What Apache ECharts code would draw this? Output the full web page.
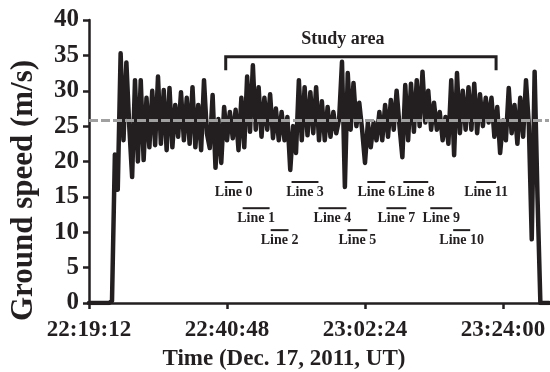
<!DOCTYPE html>
<html>
<head>
<meta charset="utf-8">
<script src="https://cdn.jsdelivr.net/npm/echarts@6/dist/echarts.min.js"></script>
</head>
<body style="margin:0">
<div id="main" style="width:550px;height:372px;"></div>
<script>
// time axis is in seconds of the day (UT)
var startTime = '22:19:12';
var endTime = '23:31:12';
var sampleStep = 27; // seconds between samples
var tickTimes = ['22:19:12', '22:40:48', '23:02:24', '23:24:00'];

// ground speed (m/s), one value per sample from startTime
var speed = [
  0, 0, 0, 0, 0, 0, 0, 0, 0.3, 21,
  16, 35.3, 23, 34, 25, 17.8, 31.5, 20, 31.5, 20.2,
  29, 22, 30, 22.3, 32, 22.5, 30.1, 21.6, 30.4, 22,
  28, 23.5, 29.8, 23, 29, 22.5, 30.5, 22, 28, 21.6,
  31.5, 24, 21.9, 29.4, 19.1, 26, 19.8, 27.7, 23, 27,
  23.3, 27.3, 21.6, 29, 22, 32, 24.2, 33.6, 24.5, 30.5,
  23.5, 29, 24.5, 29.5, 23.3, 27.5, 23, 27, 23, 26.3,
  18.8, 25, 21.2, 31.5, 23, 30.5, 23.7, 29.8, 24, 30.5,
  23, 28.5, 23, 27.7, 23.5, 27, 24, 26, 34.1, 16.4,
  32.5, 24.5, 31.1, 25, 28.3, 24.5, 19.8, 25.5, 22, 25.5,
  23, 27, 23, 28, 23.5, 28.7, 24.5, 30, 25, 20.6,
  30.8, 23, 31, 24.2, 31.5, 25, 32.7, 25.5, 30, 24.5,
  28.3, 24.5, 27, 23, 26.3, 22.5, 31.5, 20.9, 32.5, 24,
  30, 24.5, 30.5, 24.5, 31, 24, 29.5, 25, 29, 25.5,
  29, 23.5, 27.7, 21.2, 25.8, 23, 30.4, 24, 28, 22.5,
  29, 23.5, 31.5, 25, 9, 32.7, 15, 0, 0, 0,
  0
];
var meanSpeed = 25.8;

// survey lines: name, start, end, bar height (m/s)
var lineNames = ['Line 0', 'Line 1', 'Line 2', 'Line 3', 'Line 4', 'Line 5',
  'Line 6', 'Line 7', 'Line 8', 'Line 9', 'Line 10', 'Line 11'];
var lineStart = ['22:40:26', '22:43:15', '22:47:38', '22:50:54', '22:55:07', '22:59:39',
  '23:02:46', '23:05:45', '23:08:24', '23:12:37', '23:16:12', '23:19:48'];
var lineEnd = ['22:43:15', '22:47:28', '22:50:26', '22:55:07', '22:59:30', '23:02:46',
  '23:05:35', '23:08:52', '23:12:18', '23:16:03', '23:18:52', '23:22:55'];
var lineLevel = [17.1, 13.4, 10.3, 17.1, 13.4, 10.3, 17.1, 13.4, 17.1, 13.4, 10.3, 17.1];

var studyStart = '22:40:36';
var studyEnd = '23:22:55';
var studyTop = 34.8;
var studyFoot = 32.9;

function toSec(s) {
  var p = s.split(':');
  return +p[0] * 3600 + +p[1] * 60 + +p[2];
}
function pad(n) { return (n < 10 ? '0' : '') + n; }
function fmt(v) {
  return pad(Math.floor(v / 3600)) + ':' + pad(Math.floor(v % 3600 / 60)) + ':' + pad(v % 60);
}

var t0 = toSec(startTime);
var speedData = speed.map(function (v, i) { return [t0 + i * sampleStep, v]; });
var lineData = lineNames.map(function (n, i) {
  return [toSec(lineStart[i]), toSec(lineEnd[i]), lineLevel[i]];
});
var ink = '#231f20';
var serif = '"Liberation Serif", "Times New Roman", serif';

var chart = echarts.init(document.getElementById('main'));
chart.setOption({
  animation: false,
  grid: { left: 89, right: 1, top: 20, bottom: 69, outerBoundsMode: 'none' },
  xAxis: {
    type: 'value',
    min: t0,
    max: toSec(endTime),
    interval: 1296,
    name: 'Time (Dec. 17, 2011, UT)',
    nameLocation: 'middle',
    nameGap: 45,
    nameTextStyle: { fontFamily: serif, fontWeight: 'bold', fontSize: 23, color: ink, padding: [0, 70, 0, 0] },
    axisLine: { lineStyle: { color: ink, width: 2.5 } },
    axisTick: { customValues: tickTimes.map(toSec), length: 6, lineStyle: { color: ink, width: 2.5 } },
    axisLabel: {
      customValues: tickTimes.map(toSec),
      formatter: fmt, margin: 16,
      fontFamily: serif, fontWeight: 'bold', fontSize: 23, color: ink
    },
    splitLine: { show: false }
  },
  yAxis: {
    type: 'value',
    min: 0, max: 40, interval: 5,
    name: 'Ground speed (m/s)',
    nameLocation: 'middle',
    nameGap: 50,
    nameTextStyle: { fontFamily: serif, fontWeight: 'bold', fontSize: 31, color: ink, padding: [0, 58, 0, 0] },
    axisLine: { show: true, lineStyle: { color: ink, width: 2.5 } },
    axisTick: { show: true, length: 6, lineStyle: { color: ink, width: 2.5 } },
    axisLabel: { margin: 10, fontFamily: serif, fontWeight: 'bold', fontSize: 25, color: ink },
    splitLine: { show: false }
  },
  series: [
    {
      type: 'line',
      data: speedData,
      showSymbol: false,
      lineStyle: { color: ink, width: 4.5, join: 'round', cap: 'round' },
      z: 2
    },
    {
      type: 'line',
      data: [[t0, meanSpeed], [toSec(endTime), meanSpeed]],
      showSymbol: false,
      lineStyle: { color: '#a0a0a0', width: 3, type: [9, 3] },
      z: 3
    },
    {
      type: 'custom',
      data: lineData,
      encode: { x: [0, 1], y: 2 },
      z: 4,
      renderItem: function (params, api) {
        var a = api.coord([api.value(0), api.value(2)]);
        var b = api.coord([api.value(1), api.value(2)]);
        return {
          type: 'group',
          children: [
            { type: 'line', shape: { x1: a[0], y1: a[1], x2: b[0], y2: b[1] },
              style: { stroke: ink, lineWidth: 2 } },
            { type: 'text', style: {
                text: lineNames[params.dataIndex], x: (a[0] + b[0]) / 2, y: a[1] + 3,
                align: 'center', verticalAlign: 'top',
                font: 'bold 14px ' + serif, fill: ink } }
          ]
        };
      }
    },
    {
      type: 'custom',
      data: [[toSec(studyStart), toSec(studyEnd), studyTop, studyFoot]],
      encode: { x: [0, 1], y: [2, 3] },
      z: 4,
      renderItem: function (params, api) {
        var a = api.coord([api.value(0), api.value(3)]);
        var b = api.coord([api.value(0), api.value(2)]);
        var c = api.coord([api.value(1), api.value(2)]);
        var d = api.coord([api.value(1), api.value(3)]);
        return {
          type: 'group',
          children: [
            { type: 'polyline', shape: { points: [a, b, c, d] },
              style: { stroke: ink, lineWidth: 3, fill: null } },
            { type: 'text', style: {
                text: 'Study area', x: (b[0] + c[0]) / 2 - 18, y: b[1] - 8,
                align: 'center', verticalAlign: 'bottom',
                font: 'bold 18px ' + serif, fill: ink } }
          ]
        };
      }
    }
  ]
});
</script>
</body>
</html>
